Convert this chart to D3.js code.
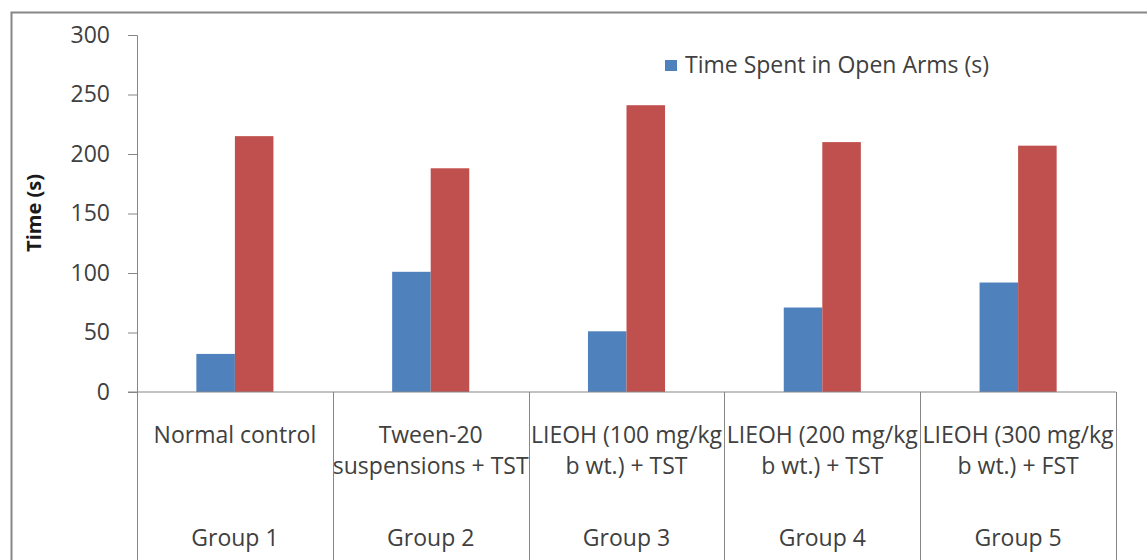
<!DOCTYPE html>
<html>
<head>
<meta charset="utf-8">
<script src="https://cdn.jsdelivr.net/npm/d3@7"></script>
<style>
  body { margin: 0; background: #fff; }
  text { font-family: "Open Sans", Lato, sans-serif; fill: #404040; }
</style>
</head>
<body>
<div id="chart"></div>
<script>
// Chart data
const groups = ["Group 1", "Group 2", "Group 3", "Group 4", "Group 5"];
const treatments = [
  ["Normal control"],
  ["Tween-20", "suspensions + TST"],
  ["LIEOH (100 mg/kg", "b wt.) + TST"],
  ["LIEOH (200 mg/kg", "b wt.) + TST"],
  ["LIEOH (300 mg/kg", "b wt.) + FST"],
];
const openArms = [32, 101, 51, 71, 92];
const otherArms = [215, 188, 241, 210, 207];
const yTicks = [0, 50, 100, 150, 200, 250, 300];
const legendLabels = ["Time Spent in Open Arms (s)"];
const yTitle = "Time (s)";

const seriesKeys = ["open", "other"];
const colors = { open: "#4F81BD", other: "#C0504D" };

// Page and plot geometry
const W = 1147, H = 560;
const plot = { left: 137, right: 1116, top: 35, bottom: 392 };
const axisColor = "#868686";
const fontSize = "23px";

const svg = d3.select("#chart").append("svg")
  .attr("width", W)
  .attr("height", H);

// outer chart border (right and bottom edges run off the picture)
svg.append("rect")
  .attr("x", 11.5).attr("y", 12.5)
  .attr("width", W + 20).attr("height", H + 20)
  .attr("fill", "#fff")
  .attr("stroke", axisColor)
  .attr("stroke-width", 2);

const rows = groups.map((g, i) => ({
  group: g,
  treatment: treatments[i],
  open: openArms[i],
  other: otherArms[i],
}));

// scales
const x = d3.scaleBand().domain(groups).range([plot.left, plot.right]);
const xInner = d3.scaleBand().domain(seriesKeys)
  .range([0, x.bandwidth()])
  .paddingInner(0)
  .paddingOuter(1.54);
const y = d3.scaleLinear().domain([0, 300]).range([plot.bottom, plot.top]);

// y axis
const yAxis = svg.append("g")
  .attr("transform", `translate(${plot.left},0)`)
  .call(d3.axisLeft(y).tickValues(yTicks).tickSize(9).tickPadding(18));
yAxis.select(".domain").attr("stroke", axisColor);
yAxis.selectAll(".tick line").attr("stroke", axisColor);
yAxis.selectAll(".tick text")
  .style("font-size", fontSize)
  .attr("fill", "#404040");

// y title
svg.append("text")
  .attr("transform", `translate(41,213) rotate(-90)`)
  .attr("text-anchor", "middle")
  .style("font-size", "20px")
  .style("font-weight", "bold")
  .style("fill", "#1a1a1a")
  .text(yTitle);

// bars
const groupG = svg.append("g").selectAll("g")
  .data(rows)
  .join("g")
  .attr("transform", (d) => `translate(${x(d.group)},0)`);

groupG.selectAll("rect")
  .data((d) => seriesKeys.map((k) => ({ key: k, value: d[k] })))
  .join("rect")
  .attr("x", (d) => xInner(d.key))
  .attr("width", xInner.bandwidth())
  .attr("y", (d) => y(d.value))
  .attr("height", (d) => y(0) - y(d.value))
  .attr("fill", (d) => colors[d.key]);

// x axis line (extends left to the zero tick)
svg.append("line")
  .attr("x1", plot.left - 9).attr("x2", plot.right)
  .attr("y1", y(0)).attr("y2", y(0))
  .attr("stroke", axisColor);

// category separators running down through both label rows
const bounds = groups.map((g) => x(g)).concat([plot.right]);
svg.append("g").selectAll("line")
  .data(bounds)
  .join("line")
  .attr("x1", (d) => Math.round(d) + 0.5)
  .attr("x2", (d) => Math.round(d) + 0.5)
  .attr("y1", y(0))
  .attr("y2", H)
  .attr("stroke", axisColor);

// treatment labels (first level)
groupG.append("text")
  .attr("text-anchor", "middle")
  .style("font-size", fontSize)
  .selectAll("tspan")
  .data((d) => d.treatment)
  .join("tspan")
  .attr("x", x.bandwidth() / 2)
  .attr("y", (d, i) => 443 + i * 31)
  .text((d) => d);

// group labels (second level)
groupG.append("text")
  .attr("x", x.bandwidth() / 2)
  .attr("y", 546)
  .attr("text-anchor", "middle")
  .style("font-size", fontSize)
  .text((d) => d.group);

// legend
const legend = svg.append("g").attr("transform", "translate(665,60)");
legend.append("rect")
  .attr("width", 12).attr("height", 11)
  .attr("fill", colors.open);
legend.append("text")
  .attr("x", 20).attr("y", 13)
  .style("font-size", fontSize)
  .text(legendLabels[0]);
</script>
</body>
</html>
